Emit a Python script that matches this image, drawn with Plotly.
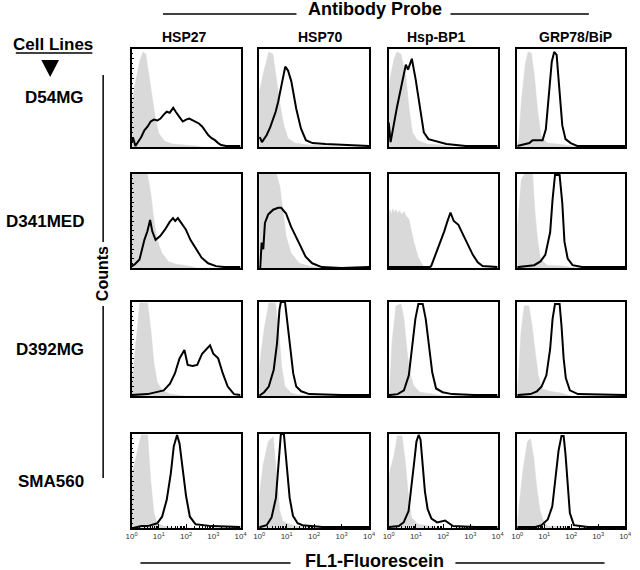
import plotly.graph_objects as go

# ---------------- labels ----------------
cell_lines = ["D54MG", "D341MED", "D392MG", "SMA560"]
probes = ["HSP27", "HSP70", "Hsp-BP1", "GRP78/BiP"]
tick_values = [1, 10, 100, 1000, 10000]
tick_labels = ["10<sup>0</sup>", "10<sup>1</sup>", "10<sup>2</sup>", "10<sup>3</sup>", "10<sup>4</sup>"]

# ---------------- data: x in log10(FL1) decades, y in % of max counts ----------------
# grey = isotype control, black = antibody probe
# D54MG
d54_hsp27_iso_x = [0.0, 0.1, 0.3, 0.42, 0.52, 0.65, 0.78, 0.88, 1.0, 1.2, 1.5, 2.0, 2.4, 2.6, 4.0]
d54_hsp27_iso_y = [40, 60, 88, 97, 95, 70, 45, 28, 14, 6, 3, 2, 1, 0, 0]
d54_hsp27_ab_x = [0.0, 0.06, 0.14, 0.25, 0.35, 0.47, 0.59, 0.7, 0.82, 0.95, 1.06, 1.18, 1.29, 1.4, 1.53, 1.62, 1.71, 1.8, 1.88, 2.0, 2.12, 2.25, 2.35, 2.47, 2.59, 2.7, 2.82, 2.94, 3.06, 3.18, 3.29, 3.47, 4.0]
d54_hsp27_ab_y = [5, 9, 1, 6, 10, 17, 21, 26, 28, 27, 29, 33, 36, 35, 40, 36, 33, 29, 26, 28, 29, 27, 26, 24, 21, 17, 12, 9, 7, 4, 2, 1, 1]
d54_hsp70_iso_x = [0.0, 0.15, 0.35, 0.5, 0.6, 0.75, 0.9, 1.05, 1.3, 1.8, 2.5, 3.0, 4.0]
d54_hsp70_iso_y = [55, 75, 97, 95, 75, 45, 22, 9, 4, 2, 1, 0, 0]
d54_hsp70_ab_x = [0.0, 0.04, 0.1, 0.27, 0.4, 0.51, 0.6, 0.69, 0.81, 0.95, 1.05, 1.17, 1.35, 1.52, 1.7, 1.94, 2.42, 3.01, 4.0]
d54_hsp70_ab_y = [10, 9, 5, 12, 20, 29, 36, 46, 63, 82, 78, 67, 39, 19, 7, 4, 3, 2, 1]
d54_hspbp1_iso_x = [0.0, 0.05, 0.2, 0.3, 0.45, 0.63, 0.75, 0.87, 1.05, 1.4, 1.9, 2.3, 4.0]
d54_hspbp1_iso_y = [50, 70, 90, 97, 95, 72, 39, 15, 7, 3, 2, 0, 0]
d54_hspbp1_ab_x = [0.0, 0.07, 0.3, 0.5, 0.63, 0.71, 0.85, 0.99, 1.17, 1.29, 1.46, 1.76, 2.12, 2.83, 3.07, 4.0]
d54_hspbp1_ab_y = [25, 5, 40, 68, 84, 79, 90, 69, 39, 15, 8, 6, 3, 1, 1, 1]
d54_grp78_iso_x = [0.0, 0.06, 0.15, 0.3, 0.4, 0.52, 0.63, 0.75, 0.88, 1.12, 1.8, 2.2, 4.0]
d54_grp78_iso_y = [3, 8, 46, 85, 97, 96, 74, 39, 11, 4, 2, 0, 0]
d54_grp78_ab_x = [0.0, 0.45, 0.57, 0.94, 1.06, 1.18, 1.28, 1.37, 1.46, 1.57, 1.67, 1.79, 1.98, 2.22, 2.52, 4.0]
d54_grp78_ab_y = [1, 4, 7, 7, 18, 53, 87, 97, 94, 56, 22, 8, 4, 1, 1, 1]

# D341MED
d341_hsp27_iso_x = [0.0, 0.58, 0.7, 0.82, 0.94, 1.11, 1.35, 1.64, 2.11, 2.4, 4.0]
d341_hsp27_iso_y = [100, 100, 80, 51, 30, 16, 7, 4, 2, 0, 0]
d341_hsp27_ab_x = [0.0, 0.02, 0.12, 0.29, 0.47, 0.58, 0.68, 0.76, 0.88, 1.05, 1.23, 1.4, 1.52, 1.6, 1.7, 1.81, 1.99, 2.16, 2.34, 2.57, 2.81, 3.1, 3.39, 4.0]
d341_hsp27_ab_y = [5, 2, 4, 9, 30, 39, 51, 39, 30, 34, 41, 49, 53, 50, 53, 48, 41, 30, 21, 11, 5, 2, 1, 1]
d341_hsp70_iso_x = [0.0, 0.63, 0.75, 0.86, 0.98, 1.16, 1.46, 1.81, 2.3, 4.0]
d341_hsp70_iso_y = [100, 100, 87, 62, 34, 16, 5, 2, 0, 0]
d341_hsp70_ab_x = [0.0, 0.04, 0.09, 0.15, 0.21, 0.33, 0.51, 0.69, 0.8, 0.98, 1.16, 1.34, 1.51, 1.69, 1.93, 2.28, 2.99, 4.0]
d341_hsp70_ab_y = [1, 1, 27, 20, 48, 57, 62, 64, 64, 58, 44, 34, 23, 12, 5, 1, 0, 1]
d341_hspbp1_iso_x = [0.0, 0.05, 0.1, 0.15, 0.2, 0.27, 0.33, 0.4, 0.48, 0.56, 0.65, 0.74, 0.92, 1.09, 1.27, 1.6, 4.0]
d341_hspbp1_iso_y = [55, 62, 57, 63, 59, 62, 58, 61, 57, 60, 55, 52, 28, 11, 2, 0, 0]
d341_hspbp1_ab_x = [0.0, 1.51, 1.56, 1.68, 1.86, 2.04, 2.15, 2.27, 2.39, 2.56, 2.74, 2.92, 3.09, 3.27, 3.45, 4.0]
d341_hspbp1_ab_y = [1, 1, 2, 11, 25, 39, 49, 59, 50, 46, 35, 25, 14, 6, 2, 1]
d341_grp78_iso_x = [0.0, 0.06, 0.15, 0.27, 0.57, 0.65, 0.75, 0.86, 1.1, 1.7, 2.2, 4.0]
d341_grp78_iso_y = [40, 62, 94, 100, 100, 62, 31, 10, 3, 2, 0, 0]
d341_grp78_ab_x = [0.0, 0.04, 0.63, 0.86, 1.04, 1.22, 1.31, 1.4, 1.57, 1.67, 1.75, 1.87, 2.05, 2.4, 4.0]
d341_grp78_ab_y = [1, 1, 3, 7, 14, 38, 73, 99, 99, 69, 28, 10, 3, 1, 1]

# D392MG
d392_hsp27_iso_x = [0.0, 0.06, 0.18, 0.3, 0.59, 0.71, 0.82, 0.94, 1.12, 1.41, 2.0, 4.0]
d392_hsp27_iso_y = [10, 27, 66, 99, 99, 70, 35, 15, 6, 2, 0, 0]
d392_hsp27_ab_x = [0.0, 0.59, 1.18, 1.41, 1.59, 1.76, 1.94, 2.06, 2.24, 2.41, 2.59, 2.76, 2.88, 3.0, 3.18, 3.35, 3.53, 3.76, 4.0]
d392_hsp27_ab_y = [1, 2, 6, 13, 24, 40, 49, 33, 32, 33, 45, 50, 54, 45, 40, 24, 10, 2, 1]
d392_hsp70_iso_x = [0.0, 0.06, 0.18, 0.35, 0.59, 0.71, 0.82, 0.94, 1.18, 1.47, 2.0, 4.0]
d392_hsp70_iso_y = [30, 42, 71, 99, 99, 71, 31, 10, 3, 1, 0, 0]
d392_hsp70_ab_x = [0.0, 0.04, 0.18, 0.35, 0.53, 0.65, 0.74, 0.79, 0.94, 1.0, 1.12, 1.24, 1.35, 1.53, 1.82, 3.0, 4.0]
d392_hsp70_ab_y = [1, 1, 4, 10, 28, 56, 92, 100, 100, 85, 53, 24, 10, 5, 2, 1, 1]
d392_hspbp1_iso_x = [0.0, 0.04, 0.12, 0.27, 0.45, 0.56, 0.68, 0.8, 0.92, 1.15, 1.62, 2.0, 4.0]
d392_hspbp1_iso_y = [0, 11, 57, 96, 98, 82, 46, 22, 11, 4, 2, 0, 0]
d392_hspbp1_ab_x = [0.0, 0.04, 0.33, 0.56, 0.74, 0.86, 0.98, 1.09, 1.25, 1.36, 1.48, 1.6, 1.74, 1.98, 2.33, 3.15, 4.0]
d392_hspbp1_ab_y = [1, 1, 2, 6, 22, 50, 82, 98, 98, 82, 54, 25, 8, 4, 2, 1, 1]
d392_grp78_iso_x = [0.0, 0.05, 0.14, 0.26, 0.43, 0.55, 0.67, 0.78, 0.9, 1.2, 1.66, 2.0, 4.0]
d392_grp78_iso_y = [5, 22, 68, 96, 96, 75, 46, 22, 8, 5, 3, 0, 0]
d392_grp78_ab_x = [0.0, 0.02, 0.49, 0.73, 0.9, 1.08, 1.22, 1.31, 1.4, 1.57, 1.64, 1.72, 1.8, 1.95, 2.25, 3.42, 4.0]
d392_grp78_ab_y = [1, 1, 2, 5, 10, 22, 50, 82, 98, 98, 75, 40, 19, 6, 2, 1, 1]

# SMA560
sma_hsp27_iso_x = [0.0, 0.06, 0.2, 0.35, 0.59, 0.7, 0.82, 0.94, 1.18, 1.5, 4.0]
sma_hsp27_iso_y = [55, 62, 80, 99, 99, 51, 16, 5, 2, 0, 0]
sma_hsp27_ab_x = [0.0, 0.06, 0.35, 0.59, 0.94, 1.12, 1.29, 1.44, 1.55, 1.67, 1.76, 1.88, 2.0, 2.14, 2.35, 2.94, 4.0]
sma_hsp27_ab_y = [0, 0, 2, 2, 5, 12, 30, 58, 87, 99, 90, 62, 34, 12, 4, 2, 1]
sma_hsp70_iso_x = [0.0, 0.04, 0.15, 0.33, 0.51, 0.63, 0.75, 0.87, 1.11, 1.35, 2.0, 4.0]
sma_hsp70_iso_y = [30, 43, 68, 92, 97, 61, 18, 7, 4, 2, 0, 0]
sma_hsp70_ab_x = [0.0, 0.04, 0.27, 0.45, 0.61, 0.69, 0.75, 0.79, 0.9, 0.99, 1.11, 1.23, 1.4, 1.58, 2.3, 4.0]
sma_hsp70_ab_y = [1, 1, 3, 11, 32, 61, 92, 100, 100, 72, 32, 13, 5, 3, 1, 1]
sma_hspbp1_iso_x = [0.0, 0.05, 0.2, 0.32, 0.49, 0.61, 0.73, 0.84, 1.08, 1.67, 2.0, 4.0]
sma_hspbp1_iso_y = [50, 61, 78, 98, 98, 71, 32, 11, 4, 1, 0, 0]
sma_hspbp1_ab_x = [0.0, 0.02, 0.37, 0.55, 0.73, 0.84, 0.94, 1.02, 1.1, 1.17, 1.25, 1.33, 1.43, 1.57, 1.78, 2.07, 2.36, 3.18, 4.0]
sma_hspbp1_ab_y = [1, 1, 2, 6, 18, 43, 71, 92, 99, 94, 68, 39, 20, 10, 6, 8, 2, 1, 1]
sma_grp78_iso_x = [0.0, 0.07, 0.21, 0.38, 0.49, 0.61, 0.72, 0.84, 0.95, 1.13, 1.7, 2.0, 4.0]
sma_grp78_iso_y = [5, 25, 61, 92, 95, 75, 44, 19, 9, 2, 2, 0, 0]
sma_grp78_ab_x = [0.0, 0.03, 0.67, 0.9, 1.13, 1.3, 1.41, 1.53, 1.64, 1.72, 1.79, 1.87, 1.95, 2.1, 2.62, 4.0]
sma_grp78_ab_y = [1, 1, 1, 3, 9, 23, 51, 82, 98, 98, 78, 44, 16, 3, 1, 1]

panels = [
    [(d54_hsp27_iso_x, d54_hsp27_iso_y, d54_hsp27_ab_x, d54_hsp27_ab_y),
     (d54_hsp70_iso_x, d54_hsp70_iso_y, d54_hsp70_ab_x, d54_hsp70_ab_y),
     (d54_hspbp1_iso_x, d54_hspbp1_iso_y, d54_hspbp1_ab_x, d54_hspbp1_ab_y),
     (d54_grp78_iso_x, d54_grp78_iso_y, d54_grp78_ab_x, d54_grp78_ab_y)],
    [(d341_hsp27_iso_x, d341_hsp27_iso_y, d341_hsp27_ab_x, d341_hsp27_ab_y),
     (d341_hsp70_iso_x, d341_hsp70_iso_y, d341_hsp70_ab_x, d341_hsp70_ab_y),
     (d341_hspbp1_iso_x, d341_hspbp1_iso_y, d341_hspbp1_ab_x, d341_hspbp1_ab_y),
     (d341_grp78_iso_x, d341_grp78_iso_y, d341_grp78_ab_x, d341_grp78_ab_y)],
    [(d392_hsp27_iso_x, d392_hsp27_iso_y, d392_hsp27_ab_x, d392_hsp27_ab_y),
     (d392_hsp70_iso_x, d392_hsp70_iso_y, d392_hsp70_ab_x, d392_hsp70_ab_y),
     (d392_hspbp1_iso_x, d392_hspbp1_iso_y, d392_hspbp1_ab_x, d392_hspbp1_ab_y),
     (d392_grp78_iso_x, d392_grp78_iso_y, d392_grp78_ab_x, d392_grp78_ab_y)],
    [(sma_hsp27_iso_x, sma_hsp27_iso_y, sma_hsp27_ab_x, sma_hsp27_ab_y),
     (sma_hsp70_iso_x, sma_hsp70_iso_y, sma_hsp70_ab_x, sma_hsp70_ab_y),
     (sma_hspbp1_iso_x, sma_hspbp1_iso_y, sma_hspbp1_ab_x, sma_hspbp1_ab_y),
     (sma_grp78_iso_x, sma_grp78_iso_y, sma_grp78_ab_x, sma_grp78_ab_y)],
]

# ---------------- layout geometry (pixels) ----------------
W, H = 640, 570
col_px = [(128, 239), (258, 370), (390, 501), (521, 631)]
row_px = [(49, 147), (174, 268), (302, 396), (434, 528)]
FONT = "Liberation Sans, Arial, sans-serif"
GREY = "#d9d9d9"


def px(x):
    return x / W


def py(y):
    return 1 - y / H


minor_vals = [k * 10 ** d for d in range(4) for k in range(2, 10)]

fig = go.Figure()
layout_axes = {}
for r in range(4):
    for c in range(4):
        k = r * 4 + c + 1
        xa = "x" if k == 1 else f"x{k}"
        ya = "y" if k == 1 else f"y{k}"
        ix, iy, ax, ay = panels[r][c]
        fig.add_trace(go.Scatter(
            x=[10 ** v for v in ix], y=iy, xaxis=xa, yaxis=ya, mode="lines",
            fill="tozeroy", fillcolor=GREY, line=dict(color=GREY, width=0.5),
            showlegend=False, hoverinfo="skip"))
        fig.add_trace(go.Scatter(
            x=[10 ** v for v in ax], y=ay, xaxis=xa, yaxis=ya, mode="lines",
            line=dict(color="black", width=2), showlegend=False))
        x0, x1 = col_px[c]
        y0, y1 = row_px[r]
        xaxis = dict(
            domain=[px(x0), px(x1)], anchor=ya, type="log", range=[0, 4],
            showline=True, mirror=True, linecolor="black", linewidth=1.5,
            showgrid=False, zeroline=False, fixedrange=True,
        )
        if r == 3:
            xaxis.update(tickmode="array", tickvals=tick_values, ticktext=tick_labels,
                         ticks="inside", ticklen=4, tickcolor="black", tickwidth=1,
                         tickfont=dict(family=FONT, size=8, color="#333333"),
                         minor=dict(ticks="inside", ticklen=2, tickcolor="black",
                                    tickmode="array", tickvals=minor_vals))
        else:
            xaxis.update(showticklabels=False, ticks="")
        yaxis = dict(
            domain=[py(y1), py(y0)], anchor=xa, range=[0, 100],
            showline=True, mirror=True, linecolor="black", linewidth=1.5,
            showgrid=False, zeroline=False, showticklabels=False, fixedrange=True,
        )
        if c == 0:
            yaxis.update(ticks="inside", dtick=10, ticklen=3, tickcolor="black", tickwidth=1,
                         minor=dict(ticks="inside", ticklen=2, dtick=5, tickcolor="black"))
        else:
            yaxis.update(ticks="")
        layout_axes["xaxis" if k == 1 else f"xaxis{k}"] = xaxis
        layout_axes["yaxis" if k == 1 else f"yaxis{k}"] = yaxis

fig.update_layout(**layout_axes)

annotations = []
shapes = []


def text(s, x, y, size, xanchor="center", angle=0):
    annotations.append(dict(
        text=f"<b>{s}</b>", x=px(x), y=py(y), xref="paper", yref="paper",
        xanchor=xanchor, yanchor="middle", showarrow=False, textangle=angle,
        font=dict(family=FONT, size=size, color="black")))


def hline(x0, x1, y, w=1.5):
    shapes.append(dict(type="line", xref="paper", yref="paper",
                       x0=px(x0), x1=px(x1), y0=py(y), y1=py(y),
                       line=dict(color="black", width=w)))


def vline(x, y0, y1, w=1.5):
    shapes.append(dict(type="line", xref="paper", yref="paper",
                       x0=px(x), x1=px(x), y0=py(y0), y1=py(y1),
                       line=dict(color="black", width=w)))


# top title
text("Antibody Probe", 376, 9, 18)
hline(160, 296, 14)
hline(453, 594, 14)

# probe headers
header_x = [182, 321, 439, 580]
for name, hx in zip(probes, header_x):
    text(name, hx, 37, 14)

# cell line header
text("Cell Lines", 48, 44, 17)
hline(10, 88, 53, 1.5)
shapes.append(dict(type="path", xref="paper", yref="paper",
                   path=f"M {px(36)} {py(60)} L {px(54)} {py(60)} L {px(45)} {py(77)} Z",
                   fillcolor="black", line=dict(color="black", width=0)))

# row labels
row_label_y = [98, 221, 349, 481]
for name, ry in zip(cell_lines, row_label_y):
    text(name, 82, ry, 17, xanchor="right")

# counts
vline(99, 75, 242)
vline(99, 306, 478)
text("Counts", 99, 274, 16, angle=-90)

# x title
text("FL1-Fluorescein", 376, 561, 18)
hline(137, 290, 563)
hline(458, 610, 563)

fig.update_layout(
    width=W, height=H, margin=dict(l=0, r=0, t=0, b=0),
    paper_bgcolor="white", plot_bgcolor="white",
    annotations=annotations, shapes=shapes, showlegend=False,
)

fig.write_html(
    "out.html",
    config={"displayModeBar": False},
    post_script="document.body.style.margin='0';document.body.style.overflow='hidden';",
)
